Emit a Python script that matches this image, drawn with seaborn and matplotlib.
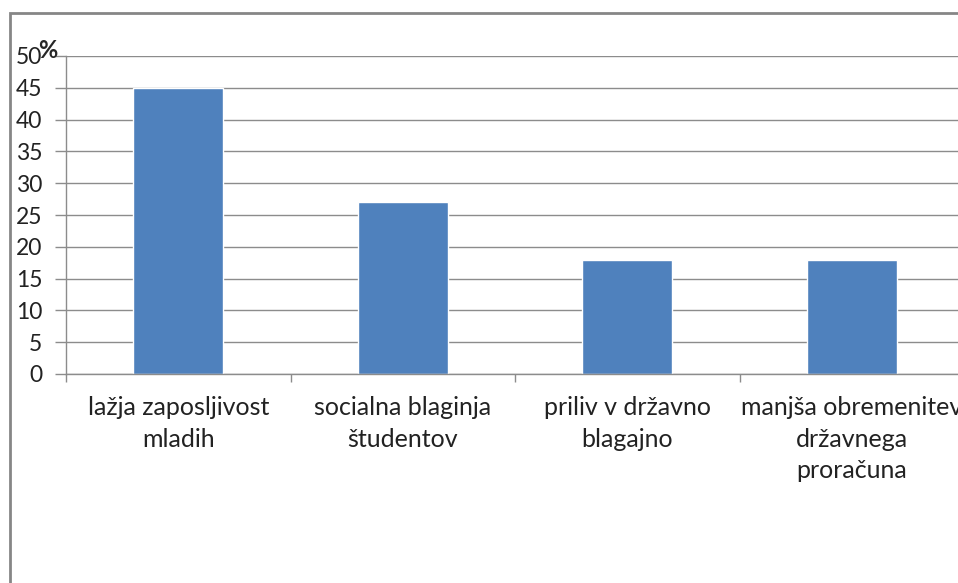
import matplotlib
matplotlib.use("Agg")
import matplotlib.pyplot as plt
import seaborn as sns
import pandas as pd
from matplotlib.patches import Rectangle

categories = ["lažja zaposljivost\nmladih", "socialna blaginja\nštudentov",
              "priliv v državno\nblagajno", "manjša obremenitev\ndržavnega\nproračuna"]
values = [45, 27, 18, 18]
yticks = [0, 5, 10, 15, 20, 25, 30, 35, 40, 45, 50]

sns.set_style("white")
plt.rcParams['font.family'] = ['Lato', 'DejaVu Sans']

fig = plt.figure(figsize=(9.58, 5.83), dpi=100)
W, H = 958, 583
ax = fig.add_axes([66 / W, 1 - 374 / H, 898 / W, 318 / H])

df = pd.DataFrame({"cat": categories, "val": values})
sns.barplot(data=df, x="cat", y="val", color="#4F81BD", saturation=1, width=0.4, ax=ax)

ax.set_xlim(-0.5, 3.5)
ax.set_ylim(0, 50)
ax.set_yticks(yticks)
ax.set_yticklabels([str(v) for v in yticks], fontsize=16.5, color="#222222")
ax.yaxis.grid(True, color="#8c8c8c", linewidth=1)
ax.set_axisbelow(True)
ax.set_xlabel("")
ax.set_ylabel("")

ax.set_xticks([-0.5, 0.5, 1.5, 2.5])
ax.set_xticklabels([])
ax.set_xticks(range(len(categories)), minor=True)
ax.set_xticklabels(categories, minor=True, fontsize=18, color="#222222", linespacing=1.45)
ax.tick_params(axis="x", which="major", length=6, color="#8c8c8c", width=1, bottom=True)
ax.tick_params(axis="x", which="minor", length=0, pad=16)
ax.tick_params(axis="y", length=8, color="#8c8c8c", width=1, pad=9, left=True)

for s in ["top", "right"]:
    ax.spines[s].set_visible(False)
for s in ["left", "bottom"]:
    ax.spines[s].set_color("#8c8c8c")
    ax.spines[s].set_linewidth(1)

fig.text(48 / W, 1 - 50 / H, "%", fontsize=17, fontweight="bold", ha="center", va="center")

fig.patches.append(Rectangle((10 / W, -0.1), 1.2, 1 - 13 / H + 0.1, transform=fig.transFigure,
                             fill=False, edgecolor="#868686", linewidth=2))

fig.savefig("out.png", dpi=100)
